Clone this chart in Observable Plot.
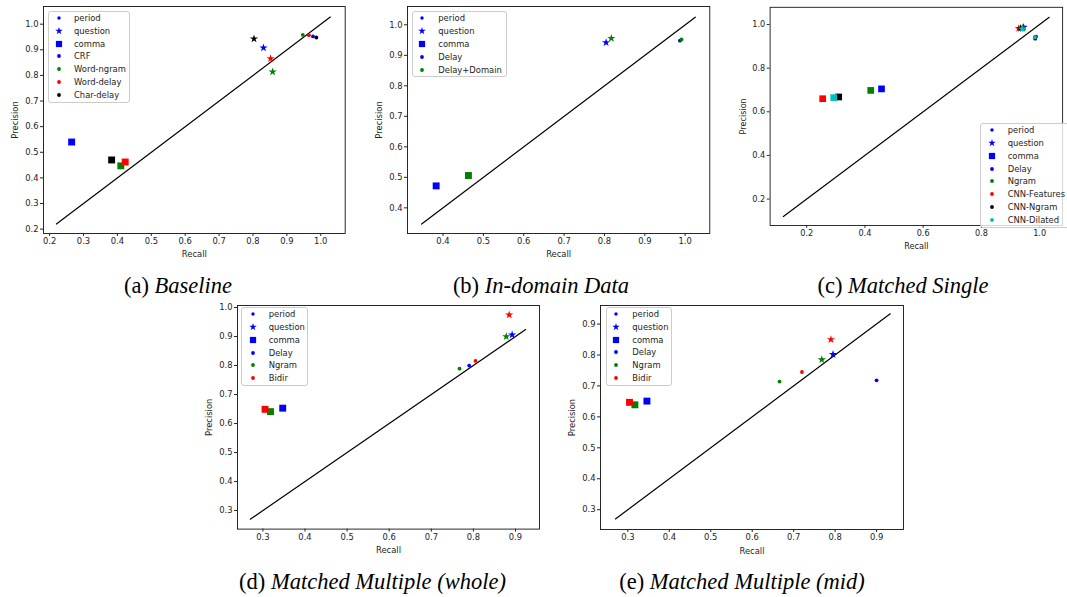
<!DOCTYPE html>
<html><head><meta charset="utf-8">
<script src="https://cdn.jsdelivr.net/npm/d3@7"></script>
<script src="https://cdn.jsdelivr.net/npm/@observablehq/plot@0.6"></script>
<style>
body{margin:0;background:#fff;width:1067px;height:597px;position:relative;overflow:hidden;font-family:"DejaVu Sans",sans-serif;}
.panel{position:absolute;}
.panel svg{overflow:visible;}
.lgbox{position:absolute;border:1px solid #ccc;border-radius:3px;background:rgba(255,255,255,0.8);box-sizing:border-box;}
.lgtext{position:absolute;font:8.4px "DejaVu Sans";color:#222;line-height:10px;white-space:nowrap;}
.lgmark{position:absolute;}
.cap{position:absolute;font-family:"Liberation Serif","Times New Roman",serif;font-size:22.5px;line-height:22.5px;white-space:nowrap;transform:translateX(-50%);color:#000;}
</style></head><body>
<script>
// ---------- shared ----------
const punct = ["period", "question", "comma"];
const punctSymbols = ["circle", "star", "square"];
const punctRadius = [1.9, 2.6, 3.9];

// ---------- (a) Baseline ----------
const aSystems = ["CRF", "Word-ngram", "Word-delay", "Char-delay"];
const aColors = ["#0000ff", "#008000", "#ff0000", "#000000"];
const aPeriodRecall = [0.977, 0.947, 0.965, 0.987];
const aPeriodPrecision = [0.952, 0.958, 0.957, 0.948];
const aQuestionRecall = [0.831, 0.858, 0.852, 0.803];
const aQuestionPrecision = [0.908, 0.814, 0.866, 0.943];
const aCommaRecall = [0.265, 0.410, 0.423, 0.383];
const aCommaPrecision = [0.540, 0.447, 0.462, 0.470];
const aDiagonal = [0.22, 1.028];
const aXTicks = [0.2, 0.3, 0.4, 0.5, 0.6, 0.7, 0.8, 0.9, 1.0];
const aYTicks = [0.2, 0.3, 0.4, 0.5, 0.6, 0.7, 0.8, 0.9, 1.0];

// ---------- (b) In-domain Data ----------
const bSystems = ["Delay", "Delay+Domain"];
const bColors = ["#0000ff", "#008000"];
const bPeriodRecall = [0.987, 0.991];
const bPeriodPrecision = [0.948, 0.952];
const bQuestionRecall = [0.804, 0.817];
const bQuestionPrecision = [0.942, 0.956];
const bCommaRecall = [0.383, 0.463];
const bCommaPrecision = [0.472, 0.506];
const bDiagonal = [0.347, 1.025];
const bXTicks = [0.4, 0.5, 0.6, 0.7, 0.8, 0.9, 1.0];
const bYTicks = [0.4, 0.5, 0.6, 0.7, 0.8, 0.9, 1.0];

// ---------- (c) Matched Single ----------
const cSystems = ["Delay", "Ngram", "CNN-Features", "CNN-Ngram", "CNN-Dilated"];
const cColors = ["#0000ff", "#008000", "#ff0000", "#000000", "#00bfbf"];
const cPeriodRecall = [0.988, 0.984, 0.984, 0.985, 0.984];
const cPeriodPrecision = [0.945, 0.944, 0.937, 0.935, 0.941];
const cQuestionRecall = [0.945, 0.942, 0.928, 0.934, 0.940];
const cQuestionPrecision = [0.988, 0.984, 0.982, 0.983, 0.980];
const cCommaRecall = [0.457, 0.420, 0.255, 0.310, 0.293];
const cCommaPrecision = [0.705, 0.698, 0.660, 0.668, 0.665];
const cDiagonal = [0.12, 1.033];
const cXTicks = [0.2, 0.4, 0.6, 0.8, 1.0];
const cYTicks = [0.2, 0.4, 0.6, 0.8, 1.0];

// ---------- (d) Matched Multiple (whole) ----------
const dSystems = ["Delay", "Ngram", "Bidir"];
const dColors = ["#0000ff", "#008000", "#ff0000"];
const dPeriodRecall = [0.790, 0.767, 0.805];
const dPeriodPrecision = [0.800, 0.789, 0.816];
const dQuestionRecall = [0.892, 0.878, 0.885];
const dQuestionPrecision = [0.906, 0.900, 0.975];
const dCommaRecall = [0.347, 0.318, 0.305];
const dCommaPrecision = [0.653, 0.641, 0.649];
const dDiagonal = [0.27, 0.924];
const dXTicks = [0.3, 0.4, 0.5, 0.6, 0.7, 0.8, 0.9];
const dYTicks = [0.3, 0.4, 0.5, 0.6, 0.7, 0.8, 0.9, 1.0];

// ---------- (e) Matched Multiple (mid) ----------
const eSystems = ["Delay", "Ngram", "Bidir"];
const eColors = ["#0000ff", "#008000", "#ff0000"];
const ePeriodRecall = [0.900, 0.666, 0.720];
const ePeriodPrecision = [0.718, 0.714, 0.745];
const eQuestionRecall = [0.795, 0.768, 0.790];
const eQuestionPrecision = [0.802, 0.785, 0.850];
const eCommaRecall = [0.346, 0.317, 0.304];
const eCommaPrecision = [0.651, 0.639, 0.647];
const eDiagonal = [0.27, 0.933];
const eXTicks = [0.3, 0.4, 0.5, 0.6, 0.7, 0.8, 0.9];
const eYTicks = [0.3, 0.4, 0.5, 0.6, 0.7, 0.8, 0.9];

// ---------- layout (positions only) ----------
const M = {l: 45, r: 5, t: 6, b: 35};
const panels = [
  {sys: aSystems, col: aColors, rec: [aPeriodRecall, aQuestionRecall, aCommaRecall], pre: [aPeriodPrecision, aQuestionPrecision, aCommaPrecision],
   diag: aDiagonal, xt: aXTicks, yt: aYTicks, xd: [0.182, 1.072], yd: [0.183, 1.069],
   frame: [43.3, 6, 345, 233],
   lg: {left: 47.7, top: 11, w: 82.3, h: 92, y0: 17.7, dy: 12.9, mx: 59.3, tx: 74},
   cap: ["(a) ", "Baseline"], capPos: [178, 294]},
  {sys: bSystems, col: bColors, rec: [bPeriodRecall, bQuestionRecall, bCommaRecall], pre: [bPeriodPrecision, bQuestionPrecision, bCommaPrecision],
   diag: bDiagonal, xt: bXTicks, yt: bYTicks, xd: [0.312, 1.061], yd: [0.316, 1.06],
   frame: [406.7, 6, 709, 233],
   lg: {left: 411.7, top: 11, w: 95, h: 66.3, y0: 17.7, dy: 12.95, mx: 422.3, tx: 438.3},
   cap: ["(b) ", "In-domain Data"], capPos: [541, 294]},
  {sys: cSystems, col: cColors, rec: [cPeriodRecall, cQuestionRecall, cCommaRecall], pre: [cPeriodPrecision, cQuestionPrecision, cCommaPrecision],
   diag: cDiagonal, xt: cXTicks, yt: cYTicks, xd: [0.0745, 1.079], yd: [0.079, 1.079],
   frame: [771, 7.3, 1072.7, 232.3],
   lg: {left: 980, top: 123.3, w: 92, h: 104.4, y0: 130, dy: 12.86, mx: 991.7, tx: 1007.7},
   cap: ["(c) ", "Matched Single"], capPos: [903, 294]},
  {sys: dSystems, col: dColors, rec: [dPeriodRecall, dQuestionRecall, dCommaRecall], pre: [dPeriodPrecision, dQuestionPrecision, dCommaPrecision],
   diag: dDiagonal, xt: dXTicks, yt: dYTicks, xd: [0.2396, 0.957], yd: [0.236, 1.007],
   frame: [237.3, 304.7, 539.3, 528.3],
   lg: {left: 240.7, top: 307.3, w: 67.6, h: 78.7, y0: 314, dy: 12.87, mx: 252.7, tx: 268.7},
   cap: ["(d) ", "Matched Multiple (whole)"], capPos: [372.5, 589.3]},
  {sys: eSystems, col: eColors, rec: [ePeriodRecall, eQuestionRecall, eCommaRecall], pre: [ePeriodPrecision, eQuestionPrecision, eCommaPrecision],
   diag: eDiagonal, xt: eXTicks, yt: eYTicks, xd: [0.234, 0.965], yd: [0.236, 0.96],
   frame: [600.3, 304.7, 903.3, 528.7],
   lg: {left: 605.7, top: 306.7, w: 66.6, h: 79.3, y0: 313.7, dy: 12.9, mx: 616.3, tx: 632.3},
   cap: ["(e) ", "Matched Multiple (mid)"], capPos: [742, 589.3]}
];

const symbolMap = {circle: d3.symbolCircle, star: d3.symbolStar, square: d3.symbolSquare};
const fmt = d3.format(".1f");

function markerSvg(symbolName, r, color) {
  const ns = "http://www.w3.org/2000/svg";
  const s = document.createElementNS(ns, "svg");
  s.setAttribute("width", 12); s.setAttribute("height", 12);
  const p = document.createElementNS(ns, "path");
  p.setAttribute("d", d3.symbol(symbolMap[symbolName], Math.PI * r * r)());
  p.setAttribute("transform", "translate(6,6)");
  p.setAttribute("fill", color);
  s.appendChild(p);
  return s;
}

for (const P of panels) {
  const rows = [];
  P.sys.forEach((s, i) => {
    punct.forEach((p, j) => {
      rows.push({system: s, punct: p, recall: P.rec[j][i], precision: P.pre[j][i], r: punctRadius[j]});
    });
  });
  const [fl, ft, fr, fb] = P.frame;
  const W = (fr - fl) + M.l + M.r;
  const H = (fb - ft) + M.t + M.b;
  const chart = Plot.plot({
    width: W, height: H,
    marginLeft: M.l, marginRight: M.r, marginTop: M.t, marginBottom: M.b,
    x: {domain: P.xd},
    y: {domain: P.yd},
    color: {domain: P.sys, range: P.col},
    symbol: {domain: punct, range: punctSymbols},
    r: {type: "identity"},
    style: {fontFamily: "DejaVu Sans", fontSize: "8.4px", color: "#222", background: "transparent", overflow: "visible"},
    marks: [
      Plot.line(P.diag, {x: d => d, y: d => d, stroke: "#000", strokeWidth: 1.2}),
      Plot.dot(rows, {x: "recall", y: "precision", fill: "system", symbol: "punct", r: "r", stroke: "none"}),
      Plot.frame({stroke: "#111", strokeWidth: 0.9}),
      Plot.axisX({ticks: P.xt, tickFormat: fmt, tickSize: 3, tickPadding: 2, label: "Recall", labelAnchor: "center", labelArrow: "none", labelOffset: 24}),
      Plot.axisY({ticks: P.yt, tickFormat: fmt, tickSize: 3, tickPadding: 2, label: "Precision", labelAnchor: "center", labelArrow: "none", labelOffset: 31})
    ]
  });
  const div = document.createElement("div");
  div.className = "panel";
  div.style.left = (fl - M.l) + "px";
  div.style.top = (ft - M.t) + "px";
  div.appendChild(chart);
  document.body.appendChild(div);

  // legend
  const L = P.lg;
  const box = document.createElement("div");
  box.className = "lgbox";
  Object.assign(box.style, {left: L.left + "px", top: L.top + "px", width: L.w + "px", height: L.h + "px"});
  document.body.appendChild(box);
  const entries = punct.map((p, j) => ({label: p, sym: punctSymbols[j], r: punctRadius[j] * 0.9, color: P.col[0]}))
    .concat(P.sys.map((s, i) => ({label: s, sym: "circle", r: punctRadius[0], color: P.col[i]})));
  entries.forEach((e, k) => {
    const y = L.y0 + k * L.dy;
    const m = markerSvg(e.sym, e.r, e.color);
    m.classList.add("lgmark");
    m.style.left = (L.mx - 6) + "px";
    m.style.top = (y - 6) + "px";
    document.body.appendChild(m);
    const t = document.createElement("div");
    t.className = "lgtext";
    t.textContent = e.label;
    t.style.left = L.tx + "px";
    t.style.top = (y - 5) + "px";
    document.body.appendChild(t);
  });

  // caption
  const cap = document.createElement("div");
  cap.className = "cap";
  cap.appendChild(document.createTextNode(P.cap[0]));
  const it = document.createElement("i");
  it.textContent = P.cap[1];
  cap.appendChild(it);
  cap.style.left = P.capPos[0] + "px";
  cap.style.top = (P.capPos[1] - 18.8) + "px";
  document.body.appendChild(cap);
}
</script>
</body></html>
